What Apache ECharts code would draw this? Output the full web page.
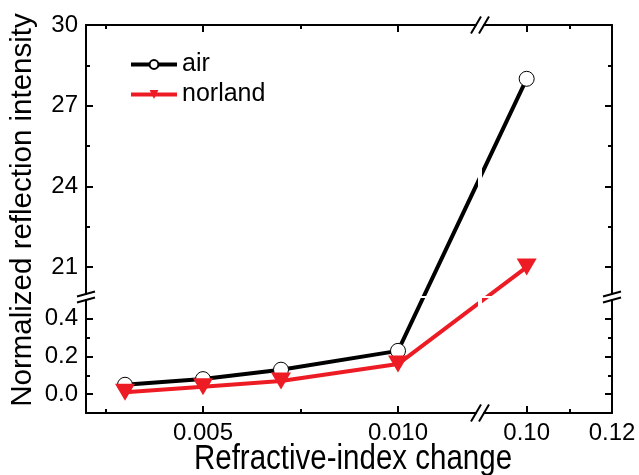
<!DOCTYPE html>
<html><head><meta charset="utf-8">
<script src="https://cdn.jsdelivr.net/npm/echarts@6/dist/echarts.min.js"></script>
<style>html,body{margin:0;padding:0;background:#fff}#c{width:639px;height:475px}</style>
</head><body><div id="c"></div>
<script>
// ---- data ----
const xValues = [0.003, 0.005, 0.007, 0.010, 0.10];
const airValues = [0.05, 0.08, 0.13, 0.23, 28.0];
const norlandValues = [0.01, 0.04, 0.07, 0.16, 21.0];

const xLeftTicks = [0.005, 0.010];
const xLeftLabels = ['0.005', '0.010'];
const xLeftMinor = [0.0025, 0.0075];
const xRightTicks = [0.10, 0.12];
const xRightLabels = ['0.10', '0.12'];
const xRightMinor = [0.11];
const yLowTicks = [0.0, 0.2, 0.4];
const yLowLabels = ['0.0', '0.2', '0.4'];
const yLowMinor = [0.1, 0.3];
const yHighTicks = [21, 24, 27, 30];
const yHighLabels = ['21', '24', '27', '30'];
const yHighMinor = [22.5, 25.5, 28.5];

const xLeftRange = [0.002, 0.012];
const xRightRange = [0.09, 0.12];
const yLowRange = [-0.1, 0.5];
const yHighRange = [20, 30];

// ---- layout ----
const FONT = '"Liberation Sans", Arial, Helvetica, sans-serif';
const L = 86, XB1 = 476, XB2 = 484, R = 612, T = 25, YB1 = 294, YB2 = 300, B = 413;

const chart = echarts.init(document.getElementById('c'), null, {renderer: 'canvas'});

function fmt(ticks, labels) {
  return function (v) {
    let best = 0;
    for (let i = 1; i < ticks.length; i++) {
      if (Math.abs(ticks[i] - v) < Math.abs(ticks[best] - v)) best = i;
    }
    return labels[best];
  };
}
function majorAxis(gridIndex, position, range, ticks, labels) {
  return {
    type: 'value', gridIndex: gridIndex, position: position, min: range[0], max: range[1],
    axisLine: {show: true, onZero: false, lineStyle: {color: '#000', width: 2}},
    axisTick: {show: true, inside: true, length: 7, customValues: ticks, lineStyle: {color: '#000', width: 2}},
    axisLabel: labels ? {show: true, customValues: ticks, formatter: fmt(ticks, labels), color: '#000',
      fontSize: 24, fontFamily: FONT, margin: 8, showMinLabel: true, showMaxLabel: true} : {show: false},
    splitLine: {show: false}, axisPointer: {show: false}
  };
}
function minorAxis(gridIndex, position, range, ticks) {
  return {
    type: 'value', gridIndex: gridIndex, position: position, min: range[0], max: range[1],
    axisLine: {show: false, onZero: false},
    axisTick: {show: true, inside: true, length: 4, customValues: ticks, lineStyle: {color: '#000', width: 2}},
    axisLabel: {show: false}, splitLine: {show: false}
  };
}

const breakLines = [];
[YB1, YB2].forEach(function (yy) {
  [L, R].forEach(function (xx) {
    breakLines.push({type: 'line', shape: {x1: xx - 9, y1: yy + 2.5, x2: xx + 9, y2: yy - 2.5},
      style: {stroke: '#000', lineWidth: 2}, z: 10});
  });
});
[XB1, XB2].forEach(function (xx) {
  [T, B].forEach(function (yy) {
    breakLines.push({type: 'line', shape: {x1: xx - 5, y1: yy + 8.5, x2: xx + 5, y2: yy - 8.5},
      style: {stroke: '#000', lineWidth: 2}, z: 10});
  });
});

const baseOption = {
  animation: false,
  backgroundColor: '#fff',
  grid: [
    {left: L, top: YB2, width: XB1 - L, height: B - YB2, outerBoundsMode: 'none'},
    {left: L, top: T, width: XB1 - L, height: YB1 - T, outerBoundsMode: 'none'},
    {left: XB2, top: T, width: R - XB2, height: YB1 - T, outerBoundsMode: 'none'},
    {left: XB2, top: YB2, width: R - XB2, height: B - YB2, outerBoundsMode: 'none'}
  ],
  xAxis: [
    majorAxis(0, 'bottom', xLeftRange, xLeftTicks, xLeftLabels), minorAxis(0, 'bottom', xLeftRange, xLeftMinor),
    majorAxis(1, 'top', xLeftRange, xLeftTicks, null), minorAxis(1, 'top', xLeftRange, xLeftMinor),
    majorAxis(2, 'top', xRightRange, xRightTicks, null), minorAxis(2, 'top', xRightRange, xRightMinor),
    majorAxis(3, 'bottom', xRightRange, xRightTicks, xRightLabels), minorAxis(3, 'bottom', xRightRange, xRightMinor)
  ],
  yAxis: [
    majorAxis(0, 'left', yLowRange, yLowTicks, yLowLabels), minorAxis(0, 'left', yLowRange, yLowMinor),
    majorAxis(1, 'left', yHighRange, yHighTicks, yHighLabels), minorAxis(1, 'left', yHighRange, yHighMinor),
    majorAxis(2, 'right', yHighRange, yHighTicks, null), minorAxis(2, 'right', yHighRange, yHighMinor),
    majorAxis(3, 'right', yLowRange, yLowTicks, null), minorAxis(3, 'right', yLowRange, yLowMinor)
  ],
  legend: {
    data: ['air', 'norland'], orient: 'vertical', left: 129, top: 52, padding: 0,
    itemWidth: 46, itemHeight: 11, itemGap: 5, selectedMode: false,
    lineStyle: {width: 4},
    textStyle: {color: '#000', fontSize: 25, fontFamily: FONT}
  },
  graphic: breakLines.concat([
    {type: 'text', x: 353, y: 459.5, scaleY: 1.18, silent: true,
      style: {text: 'Refractive-index change', fill: '#000', fontSize: 29.5, fontFamily: FONT,
        align: 'center', verticalAlign: 'middle'}},
    {type: 'text', x: 23, y: 210, rotation: Math.PI / 2, silent: true,
      style: {text: 'Normalized reflection intensity', fill: '#000', fontSize: 29.5, fontFamily: FONT,
        align: 'center', verticalAlign: 'middle'}}
  ]),
  series: []
};
chart.setOption(baseOption);

function nativeGrid(x, y) {
  const left = x <= xLeftRange[1];
  const low = y <= yLowRange[1];
  return left ? (low ? 0 : 1) : (low ? 3 : 2);
}
function buildSeries(name, values, style) {
  const pts = xValues.map(function (x, i) { return [x, values[i]]; });
  const natives = pts.map(function (p) { return nativeGrid(p[0], p[1]); });
  const pixels = pts.map(function (p, i) {
    return chart.convertToPixel({xAxisIndex: 2 * natives[i], yAxisIndex: 2 * natives[i]}, p);
  });
  return [0, 1, 2, 3].map(function (g) {
    return Object.assign({
      name: name, type: 'line', xAxisIndex: 2 * g, yAxisIndex: 2 * g, clip: true, silent: true,
      data: pts.map(function (p, i) {
        return natives[i] === g ? p : chart.convertFromPixel({xAxisIndex: 2 * g, yAxisIndex: 2 * g}, pixels[i]);
      })
    }, style);
  });
}

const airStyle = {
  symbol: 'circle', symbolSize: 15, z: 2,
  lineStyle: {color: '#000', width: 4},
  itemStyle: {color: '#fff', borderColor: '#000', borderWidth: 1}
};
const norlandStyle = {
  symbol: 'triangle', symbolRotate: 180, symbolSize: [20, 17], z: 3,
  lineStyle: {color: '#ed1c24', width: 4},
  itemStyle: {color: '#ed1c24', borderWidth: 0}
};

chart.setOption({
  series: buildSeries('air', airValues, airStyle).concat(buildSeries('norland', norlandValues, norlandStyle))
});
</script>
</body></html>
